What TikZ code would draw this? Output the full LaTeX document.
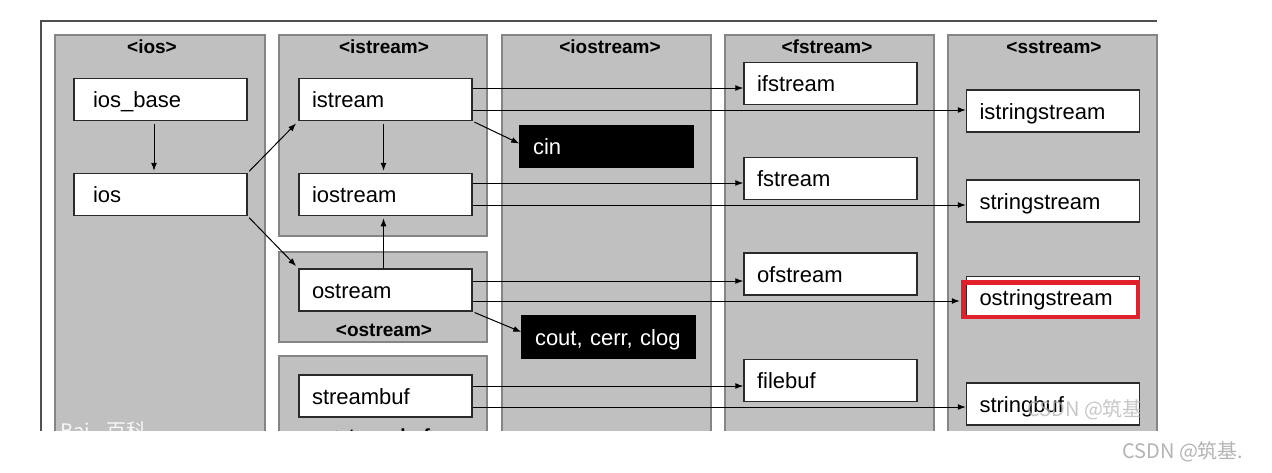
\documentclass[tikz,border=0pt]{standalone}
\usepackage{fontspec}
\setmainfont{Liberation Sans}
\newfontfamily\cjkfont{Noto Sans CJK SC}
\usetikzlibrary{arrows.meta,calc}
\definecolor{panelgray}{HTML}{C0C0C0}
\definecolor{panelborder}{HTML}{858585}
\definecolor{boxline}{HTML}{2A2A2A}
\definecolor{framecol}{HTML}{505050}
\definecolor{hlred}{HTML}{E0202A}
\definecolor{wmgray}{HTML}{B4B4B4}
\tikzset{
  panel/.style={fill=panelgray, draw=panelborder, line width=2pt},
  hdr/.style={font=\fontsize{19}{22}\selectfont\bfseries, inner sep=0pt},
  box/.style={draw=boxline, fill=white, line width=1.5pt, minimum height=42pt,
    inner xsep=13pt, inner ysep=0pt, text width=147pt, align=left,
    text height=16pt, text depth=0pt, font=\fontsize{22}{26}\selectfont},
  iosbox/.style={box, inner xsep=19pt, text width=135pt},
  blkbox/.style={box, draw=black, fill=black, text=white},
  arr/.style={-{Latex[length=8pt,width=6pt]}, line width=1pt, draw=black},
  hl/.style={draw=hlred, line width=4.5pt},
  wm/.style={font=\cjkfont\fontsize{20}{24}\selectfont, text=wmgray, inner sep=0pt}
}
\begin{document}
\begin{tikzpicture}[x=1pt,y=-1pt]
\useasboundingbox (0,0) rectangle (1272,472);
\fill[white] (0,0) rectangle (1272,472);
\begin{scope}
\clip (0,0) rectangle (1272,430);
% frame
\draw[framecol, line width=1.6pt] (41,440) -- (41,21) -- (1157,21);
% panels
\draw[panel] (55,35) rectangle (265,445);
\draw[panel] (279,35) rectangle (487,236);
\draw[panel] (279,252) rectangle (487,342);
\draw[panel] (279,356) rectangle (487,460);
\draw[panel] (502,35) rectangle (711,445);
\draw[panel] (725,35) rectangle (934,445);
\draw[panel] (948,35) rectangle (1157,445);
% headers
\node[hdr] (hios) at (152,47) {<ios>};
\node[hdr] (histream) at (384,47) {<istream>};
\node[hdr] (hiostream) at (610,47) {<iostream>};
\node[hdr] (hfstream) at (827,47) {<fstream>};
\node[hdr] (hsstream) at (1054,47) {<sstream>};
\node[hdr] (hostream) at (384,330) {<ostream>};
\node[hdr] (hstreambuf) at (384,436) {<streambuf>};
% watermark (Baidu)
\node[font=\cjkfont\fontsize{20}{24}\selectfont, text=white!88!panelgray, anchor=base west, inner sep=0pt] (baidu) at (60,438) {Bai\,\,\,\,\,百科};
% boxes
\node[iosbox] (iosbase) at (160.5,99.5) {ios\_base};
\node[iosbox] (ios) at (160.5,194.5) {ios};
\node[box] (istream) at (385.5,99.5) {istream};
\node[box] (iostream) at (385.5,194.5) {iostream};
\node[box] (ostream) at (385.5,290) {ostream};
\node[box] (streambuf) at (385.5,396) {streambuf};
\node[blkbox] (cin) at (606.5,146.5) {cin};
\node[blkbox] (cout) at (608.5,337) {cout, cerr, clog};
\node[box] (ifstream) at (830.5,83.5) {ifstream};
\node[box] (fstream) at (830.5,178.5) {fstream};
\node[box] (ofstream) at (830.5,274) {ofstream};
\node[box] (filebuf) at (830.5,380.5) {filebuf};
\node[box] (istringstream) at (1053,111) {istringstream};
\node[box] (stringstream) at (1053,201) {stringstream};
\node[box] (ostringstream) at (1053,297.5) {ostringstream};
\node[box] (stringbuf) at (1053,404) {stringbuf};
% highlight
\draw[hl] ($(ostringstream.north west)+(-2.5,6.5)$) rectangle ($(ostringstream.south east)+(-2.5,-2.5)$);
% arrows
\draw[arr, shorten <=3pt, shorten >=2pt] ([xshift=-6.5pt]iosbase.south) -- ([xshift=-6.5pt]ios.north);
\draw[arr, shorten <=3pt, shorten >=2pt] ([xshift=-2pt]istream.south) -- ([xshift=-2pt]iostream.north);
\draw[arr, shorten >=2pt] ([xshift=-2pt]ostream.north) -- ([xshift=-2pt]iostream.south);
\draw[arr, shorten <=2pt, shorten >=3pt] (ios.north east) -- (istream.south west);
\draw[arr, shorten <=2pt, shorten >=3pt] (ios.south east) -- (ostream.north west);
\draw[arr, shorten <=2pt] (istream.south east) -- ([yshift=3pt]cin.west);
\draw[arr, shorten <=2pt] (ostream.south east) -- ([yshift=5pt]cout.west);
\draw[arr] (istream.east |- 0,88) -- (ifstream.west |- 0,88);
\draw[arr] (istream.east |- 0,110) -- (istringstream.west |- 0,110);
\draw[arr] (iostream.east |- 0,183) -- (fstream.west |- 0,183);
\draw[arr] (iostream.east |- 0,205) -- (stringstream.west |- 0,205);
\draw[arr] (ostream.east |- 0,281) -- (ofstream.west |- 0,281);
\draw[arr, shorten >=6pt] (ostream.east |- 0,301) -- (ostringstream.west |- 0,301);
\draw[arr] (streambuf.east |- 0,386) -- (filebuf.west |- 0,386);
\draw[arr] (streambuf.east |- 0,407) -- (stringbuf.west |- 0,407);
% CSDN overlay watermark
\node[wm, anchor=base west, text opacity=0.75] (wm1) at (1027,416) {CSDN @筑基};
\end{scope}
\node[wm, anchor=base west] (wm2) at (1122,458) {CSDN @筑基.};
\end{tikzpicture}
\end{document}
